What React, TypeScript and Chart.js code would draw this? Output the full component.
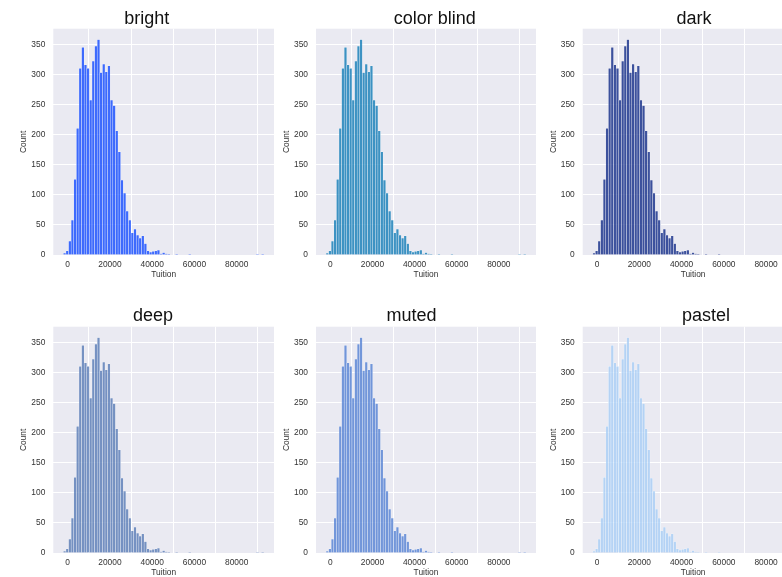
import React, { useEffect, useRef } from "react";
import { Chart, registerables } from "chart.js";

Chart.register(...registerables);

// ---- data (histogram of Tuition) ----
const BIN_START = -2068;
const BIN_WIDTH = 1233.5;
const COUNTS = [
  3, 7, 23, 58, 126, 211, 311, 346, 317, 311,
  258, 323, 348, 359, 304, 318, 305, 315, 258, 249,
  207, 172, 125, 103, 73, 58, 37, 43, 33, 28,
  32, 19, 7, 5, 6, 7, 8, 2, 4, 2,
  1, 0, 0, 1, 0, 0, 0, 0, 1, 0,
  0, 0, 0, 0, 0, 0, 0, 0, 0, 0,
  0, 0, 0, 0, 0, 0, 0, 0, 0, 0,
  0, 0, 0, 0, 1, 0, 1,
];
const X_TICKS = [0, 20000, 40000, 60000, 80000];
const Y_TICKS = [0, 50, 100, 150, 200, 250, 300, 350];
const X_MIN = -6817;
const X_MAX = 97660;
const Y_MAX = 377;
const X_LABEL = "Tuition";
const Y_LABEL = "Count";

const PALETTE_NAMES = ["bright", "color blind", "dark", "deep", "muted", "pastel"];
const PALETTE_COLORS = [
  "rgba(2,62,255,0.75)",
  "rgba(1,115,178,0.75)",
  "rgba(0,28,127,0.75)",
  "rgba(76,114,176,0.75)",
  "rgba(72,120,208,0.75)",
  "rgba(161,201,244,0.75)",
];

// ---- layout ----
const COL_LEFT = [53.3, 316, 582.7];
const COL_WIDTH = [220.7, 220, 220.7];
const ROW_TOP = [28.7, 326.7];
const ROW_HEIGHT = 226.3;
const TITLE_X = [146.7, 434.7, 694, 153, 411.5, 706];
const TITLE_Y = [24, 24, 24, 321, 321, 321];

const LEFT_W = 45;
const TOP_H = 34;
const BOTTOM_H = 35;
const RIGHT_W = 4;

const FONT_FAMILY = '"Liberation Sans", Arial, Helvetica, sans-serif';
const TEXT_COLOR = "#333333";
const BG = "#EAEAF2";

function Panel({ idx }: { idx: number }) {
  const ref = useRef<HTMLCanvasElement>(null);
  const col = idx % 3;
  const row = Math.floor(idx / 3);
  const pl = COL_LEFT[col];
  const pw = COL_WIDTH[col];
  const pt = ROW_TOP[row];
  const ph = ROW_HEIGHT;
  const cl = Math.floor(pl - LEFT_W);
  const ct = Math.floor(pt - TOP_H);
  const padL = pl - LEFT_W - cl;
  const padT = pt - TOP_H - ct;
  const cw = Math.ceil(padL + LEFT_W + pw + RIGHT_W);
  const ch = Math.ceil(padT + TOP_H + ph + BOTTOM_H);
  const padR = cw - (padL + LEFT_W + pw);
  const padB = ch - (padT + TOP_H + ph + BOTTOM_H);

  useEffect(() => {
    if (!ref.current) return;
    const bgPlugin = {
      id: "panelBg",
      beforeDraw(chart: any) {
        const { ctx, chartArea } = chart;
        ctx.save();
        ctx.fillStyle = BG;
        ctx.fillRect(chartArea.left, chartArea.top, chartArea.right - chartArea.left, chartArea.bottom - chartArea.top);
        ctx.restore();
      },
    };
    const titlePlugin = {
      id: "panelTitle",
      afterDraw(chart: any) {
        const { ctx } = chart;
        ctx.save();
        ctx.font = `18px ${FONT_FAMILY}`;
        ctx.fillStyle = "#111111";
        ctx.textAlign = "center";
        ctx.textBaseline = "alphabetic";
        ctx.fillText(PALETTE_NAMES[idx], TITLE_X[idx] - cl, TITLE_Y[idx] - ct);
        ctx.restore();
      },
    };
    const tickFont = { family: FONT_FAMILY, size: 8.4 };
    const chart = new Chart(ref.current, {
      type: "bar",
      data: {
        datasets: [
          {
            label: PALETTE_NAMES[idx],
            data: COUNTS.map((c, i) => ({ x: BIN_START + (i + 0.5) * BIN_WIDTH, y: c })),
            backgroundColor: PALETTE_COLORS[idx],
            borderColor: "rgba(255,255,255,0.55)",
            borderWidth: 0.5,
            barPercentage: 1,
            categoryPercentage: 1,
          },
        ],
      },
      options: {
        animation: false,
        responsive: false,
        maintainAspectRatio: false,
        events: [],
        layout: { padding: { left: padL, top: padT + TOP_H, right: padR, bottom: padB } },
        plugins: {
          legend: { display: false },
          tooltip: { enabled: false },
          title: { display: false },
        },
        scales: {
          x: {
            type: "linear",
            min: X_MIN,
            max: X_MAX,
            offset: false,
            afterBuildTicks: (s: any) => {
              s.ticks = X_TICKS.map((value) => ({ value }));
            },
            afterFit: (s: any) => {
              s.height = BOTTOM_H;
            },
            ticks: {
              font: tickFont,
              color: TEXT_COLOR,
              padding: 5,
              maxRotation: 0,
              autoSkip: false,
              callback: (v: any) => String(v),
            },
            grid: { color: "#ffffff", lineWidth: 1, drawTicks: false },
            border: { display: false },
            title: {
              display: true,
              text: X_LABEL,
              color: TEXT_COLOR,
              font: tickFont,
              padding: { top: 0, bottom: 10 },
            },
          },
          y: {
            type: "linear",
            min: 0,
            max: Y_MAX,
            afterBuildTicks: (s: any) => {
              s.ticks = Y_TICKS.map((value) => ({ value }));
            },
            afterFit: (s: any) => {
              s.width = LEFT_W;
            },
            ticks: {
              font: tickFont,
              color: TEXT_COLOR,
              padding: 8,
              autoSkip: false,
              callback: (v: any) => String(v),
            },
            grid: { color: "#ffffff", lineWidth: 1, drawTicks: false },
            border: { display: false },
            title: {
              display: true,
              text: Y_LABEL,
              color: TEXT_COLOR,
              font: tickFont,
              padding: { top: 10.7, bottom: 0 },
            },
          },
        },
      },
      plugins: [bgPlugin, titlePlugin],
    } as any);
    return () => chart.destroy();
  }, []);

  return (
    <canvas
      ref={ref}
      width={cw}
      height={ch}
      style={{ position: "absolute", left: cl, top: ct, width: cw, height: ch }}
    />
  );
}

export default function App() {
  return (
    <div
      style={{
        position: "absolute",
        left: 0,
        top: 0,
        width: 782,
        height: 577,
        overflow: "hidden",
        background: "#ffffff",
      }}
    >
      {PALETTE_NAMES.map((_, i) => (
        <Panel key={i} idx={i} />
      ))}
    </div>
  );
}
